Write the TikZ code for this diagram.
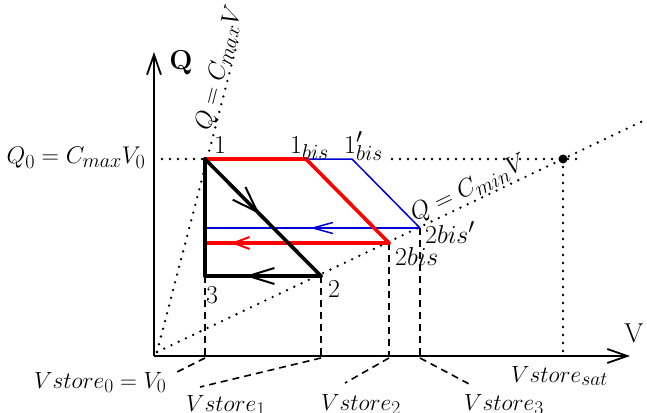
\RequirePackage{fix-cm}
\documentclass[tikz,border=0pt]{standalone}
\usetikzlibrary{arrows.meta,decorations.markings}
\begin{document}
\begin{tikzpicture}[x=1pt,y=-1pt,
  dotline/.style={line width=2.6pt, line cap=round, dash pattern=on 0pt off 8pt},
  dashline/.style={line width=1.6pt, dash pattern=on 7pt off 5pt},
  axisline/.style={line width=1.8pt, -{Straight Barb[length=20pt,width=14pt,line width=1.8pt]}},
  cycleblack/.style={line width=3.6pt, line cap=round},
  cyclered/.style={line width=3.6pt, red, line cap=round},
  cycleblue/.style={line width=1.5pt, blue!85!black},
  midtip/.style 2 args={postaction={decorate, decoration={markings, mark=at position #1 with {\arrow{#2}}}}},
  ptlabel/.style={font=\Huge, inner sep=0pt, anchor=base west, scale=1.04},
  vlabel/.style={font=\Huge, inner sep=0pt, anchor=base west, scale=0.94},
  eqlabel/.style={font=\Huge, inner sep=0pt, scale=1.0},
  axlabel/.style={font=\Huge, inner sep=0pt, scale=1.1},
]
\useasboundingbox (0,0) rectangle (647,412);

% key points
\coordinate (o) at (154,356);
\coordinate (qtop) at (154,52);
\coordinate (vend) at (630,356);
\coordinate (dorig) at (157,352);
\coordinate (p1) at (205,159);
\coordinate (p2) at (321,276);
\coordinate (p3) at (205,276);
\coordinate (b1) at (306,159);
\coordinate (b1p) at (352,159);
\coordinate (b2) at (389,243);
\coordinate (b2p) at (420,228);
\coordinate (r3) at (205,243);
\coordinate (bl3) at (207,228);
\coordinate (sat) at (563,159);
\coordinate (cmaxend) at (238,40);
\coordinate (cminend) at (645,120);
\coordinate (qd) at (162,159);
\coordinate (hd1) at (392,159);
\coordinate (hd2) at (578,159);
\coordinate (l0) at (177,372);
\coordinate (l1) at (200,387);
\coordinate (l2) at (345,383);
\coordinate (l3) at (471,385);

% dotted guide lines
\draw[dotline] (dorig) -- (cmaxend);
\draw[dotline] (dorig) -- (cminend);
\draw[dotline] (qd) -- (p1);
\draw[dotline] (hd1) -- (hd2);
\draw[dotline] (sat) -- (sat |- o);
\fill (sat) circle (4.5);

% dashed verticals and leaders
\draw[dashline] (p3) -- (p3 |- o);
\draw[dashline] (p2) -- (p2 |- o);
\draw[dashline] (b2) -- (b2 |- o);
\draw[dashline] (b2p) -- (b2p |- o);
\draw[dashline] ([yshift=-2pt]p3 |- o) -- (l0);
\draw[dashline] ([yshift=-2pt]p2 |- o) -- (l1);
\draw[dashline] ([yshift=-2pt]b2 |- o) -- (l2);
\draw[dashline] ([yshift=-2pt]b2p |- o) -- (l3);

% axes
\draw[axisline] (o) -- (qtop);
\draw[axisline] (o) -- (vend);

% blue cycle
\draw[cycleblue] (b1) -- (b1p) -- (b2p);
\draw[cycleblue, midtip={0.516}{Straight Barb[length=20pt,width=11pt,line width=1.5pt]}] (b2p) -- (bl3);

% red cycle
\draw[cyclered] (p1) -- (b1) -- (b2);
\draw[cyclered, midtip={0.86}{Straight Barb[length=16pt,width=12pt,line width=2pt]}] (b2) -- (r3);

% black cycle
\draw[cycleblack] (p3) -- (p1);
\draw[cycleblack, midtip={0.47}{Straight Barb[length=26pt,width=18pt,line width=2pt]}] (p1) -- (p2);
\draw[cycleblack, midtip={0.655}{Straight Barb[length=26pt,width=16pt,line width=2pt]}] (p2) -- (p3);

% labels
\node[axlabel] (qlab) at (181,63) {$\mathbf{Q}$};
\node[axlabel] (vlab) at (634,333) {$\mathrm{V}$};
\node[eqlabel, scale=0.97] (q0) at (76,158) {$Q_0=C_{max}V_0$};
\node[eqlabel, rotate=75.6] (cmaxlab) at (220,68) {$Q=C_{max}V$};
\node[eqlabel, rotate=25.4] (cminlab) at (469,189) {$Q=C_{min}V$};

\node[ptlabel] (n1) at (214,153) {$1$};
\node[ptlabel] (n1b) at (290,153) {$1_{bis}$};
\node[ptlabel] (n1bp) at (344,153) {$1'_{bis}$};
\node[ptlabel] (n2bp) at (425,243) {$2bis'$};
\node[ptlabel] (n2b) at (395,265) {$2bis$};
\node[ptlabel] (n2) at (328,297) {$2$};
\node[ptlabel] (n3) at (206,303) {$3$};

\node[vlabel] (v0) at (34,388) {$Vstore_0=V_0$};
\node[vlabel] (v1) at (186,411) {$Vstore_1$};
\node[vlabel] (v2) at (321,410) {$Vstore_2$};
\node[vlabel] (v3) at (464,410) {$Vstore_3$};
\node[vlabel] (vsat) at (511,382) {$Vstore_{sat}$};
\end{tikzpicture}
\end{document}
